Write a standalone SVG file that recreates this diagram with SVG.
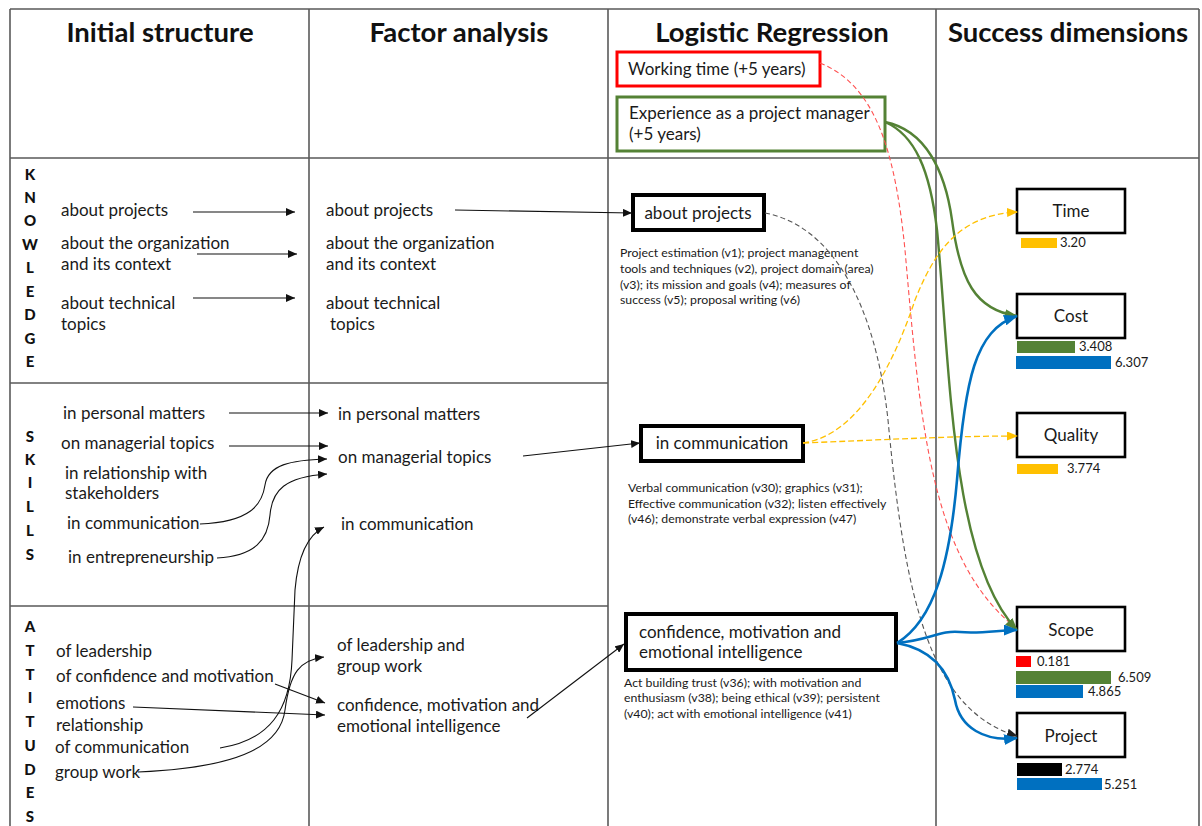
<svg xmlns="http://www.w3.org/2000/svg" width="1202" height="826" viewBox="0 0 1202 826">
  <style>
    .grid { stroke: #5a5a5a; stroke-width: 1.6; fill: none; }
    .hdr { font-family: Lato, "Liberation Sans", sans-serif; font-weight: bold; font-size: 27.5px; fill: #111; text-anchor: middle; }
    .vl { font-family: Lato, "Liberation Sans", sans-serif; font-weight: 900; font-size: 15px; fill: #111; text-anchor: middle; }
    .t { font-family: Lato, "Liberation Sans", sans-serif; font-size: 17px; fill: #1a1a1a; }
    .d { font-family: Lato, "Liberation Sans", sans-serif; font-size: 12.3px; fill: #1a1a1a; }
    .bt { font-family: Lato, "Liberation Sans", sans-serif; font-size: 17px; fill: #1a1a1a; }
    .ct { text-anchor: middle; }
    .num { font-family: Lato, "Liberation Sans", sans-serif; font-size: 13px; fill: #1a1a1a; }
    .box { fill: #fff; stroke: #000; stroke-width: 4; }
    .sbox { fill: #fff; stroke: #000; stroke-width: 2.6; }
    .thin { fill: none; stroke: #111; stroke-width: 1.1; }
    .green { fill: none; stroke: #548235; stroke-width: 2.4; }
    .blue { fill: none; stroke: #0070C0; stroke-width: 2.6; }
    .red { fill: none; stroke: #FF5050; stroke-width: 1.1; stroke-dasharray: 5 3; }
    .yel { fill: none; stroke: #FFC000; stroke-width: 1.3; stroke-dasharray: 6 3; }
    .gray { fill: none; stroke: #555; stroke-width: 1.1; stroke-dasharray: 5 3; }
  </style>
  <defs>
    <marker id="ah" markerUnits="userSpaceOnUse" markerWidth="9" markerHeight="8" refX="9" refY="4" orient="auto">
      <path d="M0,0 L9,4 L0,8 z" fill="#111"/>
    </marker>
    <marker id="ahG" markerUnits="userSpaceOnUse" markerWidth="13" markerHeight="10" refX="12" refY="5" orient="auto">
      <path d="M0,0 L13,5 L0,10 z" fill="#548235"/>
    </marker>
    <marker id="ahB" markerUnits="userSpaceOnUse" markerWidth="14" markerHeight="11" refX="13" refY="5.5" orient="auto">
      <path d="M0,0 L14,5.5 L0,11 z" fill="#0070C0"/>
    </marker>
    <marker id="ahY" markerUnits="userSpaceOnUse" markerWidth="11" markerHeight="9" refX="10" refY="4.5" orient="auto">
      <path d="M0,0 L11,4.5 L0,9 z" fill="#FFC000"/>
    </marker>
    <marker id="ahK" markerUnits="userSpaceOnUse" markerWidth="11" markerHeight="9" refX="10" refY="4.5" orient="auto">
      <path d="M0,0 L11,4.5 L0,9 z" fill="#222"/>
    </marker>
  </defs>

  <rect width="1202" height="826" fill="#fff"/>

  <!-- table frame -->
  <g id="table">
    <path class="grid" d="M10,9 H1199 M10,158 H1199 M10,383 H608 M10,606 H608"/>
    <path class="grid" d="M10,9 V826 M309,9 V826 M608,9 V826 M936,9 V826 M1199,9 V826"/>
  </g>

  <!-- column headings -->
  <g id="headings">
    <text class="hdr" x="160" y="42">Initial structure</text>
    <text class="hdr" x="459" y="42">Factor analysis</text>
    <text class="hdr" x="772" y="42">Logistic Regression</text>
    <text class="hdr" x="1068" y="42">Success dimensions</text>
  </g>

  <!-- row labels, one letter per line -->
  <g id="row-knowledge">
    <text class="vl" x="30" y="180">K</text>
    <text class="vl" x="30" y="203">N</text>
    <text class="vl" x="30" y="226">O</text>
    <text class="vl" x="30" y="250">W</text>
    <text class="vl" x="30" y="273">L</text>
    <text class="vl" x="30" y="297">E</text>
    <text class="vl" x="30" y="320">D</text>
    <text class="vl" x="30" y="344">G</text>
    <text class="vl" x="30" y="367">E</text>
  </g>
  <g id="row-skills">
    <text class="vl" x="30" y="442">S</text>
    <text class="vl" x="30" y="465">K</text>
    <text class="vl" x="30" y="488">I</text>
    <text class="vl" x="30" y="512">L</text>
    <text class="vl" x="30" y="536">L</text>
    <text class="vl" x="30" y="560">S</text>
  </g>
  <g id="row-attitudes">
    <text class="vl" x="30" y="632">A</text>
    <text class="vl" x="30" y="656">T</text>
    <text class="vl" x="30" y="680">T</text>
    <text class="vl" x="30" y="703">I</text>
    <text class="vl" x="30" y="727">T</text>
    <text class="vl" x="30" y="751">U</text>
    <text class="vl" x="30" y="775">D</text>
    <text class="vl" x="30" y="798">E</text>
    <text class="vl" x="30" y="822">S</text>
  </g>

  <!-- initial structure items -->
  <g id="init-knowledge">
    <text class="t" x="61" y="216">about projects</text>
    <text class="t" x="61" y="249">about the organization</text>
    <text class="t" x="61" y="270">and its context</text>
    <text class="t" x="61" y="309">about technical</text>
    <text class="t" x="61" y="330">topics</text>
  </g>
  <g id="init-skills">
    <text class="t" x="63" y="419">in personal matters</text>
    <text class="t" x="61" y="449">on managerial topics</text>
    <text class="t" x="65" y="479">in relationship with</text>
    <text class="t" x="65" y="499">stakeholders</text>
    <text class="t" x="67" y="529">in communication</text>
    <text class="t" x="68" y="563">in entrepreneurship</text>
  </g>
  <g id="init-attitudes">
    <text class="t" x="56" y="657">of leadership</text>
    <text class="t" x="56" y="682">of confidence and motivation</text>
    <text class="t" x="56" y="709">emotions</text>
    <text class="t" x="56" y="731">relationship</text>
    <text class="t" x="55" y="753">of communication</text>
    <text class="t" x="55" y="778">group work</text>
  </g>

  <!-- factor analysis items -->
  <g id="factor-knowledge">
    <text class="t" x="326" y="216">about projects</text>
    <text class="t" x="326" y="249">about the organization</text>
    <text class="t" x="326" y="270">and its context</text>
    <text class="t" x="326" y="309">about technical</text>
    <text class="t" x="330" y="330">topics</text>
  </g>
  <g id="factor-skills">
    <text class="t" x="338" y="420">in personal matters</text>
    <text class="t" x="338" y="463">on managerial topics</text>
    <text class="t" x="341" y="530">in communication</text>
  </g>
  <g id="factor-attitudes">
    <text class="t" x="337" y="651">of leadership and</text>
    <text class="t" x="337" y="672">group work</text>
    <text class="t" x="337" y="711">confidence, motivation and</text>
    <text class="t" x="337" y="732">emotional intelligence</text>
  </g>

  <!-- logistic regression predictors -->
  <g id="lr-working-time">
    <rect x="617" y="52" width="203" height="34" fill="#fff" stroke="#FF0000" stroke-width="3"/>
    <text class="bt" x="628" y="75">Working time (+5 years)</text>
  </g>
  <g id="lr-experience">
    <rect x="617" y="97" width="268" height="54" fill="#fff" stroke="#548235" stroke-width="3"/>
    <text class="bt" x="629" y="119">Experience as a project manager</text>
    <text class="bt" x="629" y="140">(+5 years)</text>
  </g>
  <g id="lr-about-projects">
    <rect class="box" x="633" y="195" width="131" height="35"/>
    <text class="bt ct" x="698" y="219">about projects</text>
    <text class="d" x="620" y="257">Project estimation (v1); project management</text>
    <text class="d" x="620" y="273">tools and techniques (v2), project domain (area)</text>
    <text class="d" x="620" y="289">(v3); its mission and goals (v4); measures of</text>
    <text class="d" x="620" y="304">success (v5); proposal writing (v6)</text>
  </g>
  <g id="lr-communication">
    <rect class="box" x="641" y="426" width="162" height="35"/>
    <text class="bt ct" x="722" y="449">in communication</text>
    <text class="d" x="628" y="492">Verbal communication (v30); graphics (v31);</text>
    <text class="d" x="628" y="508">Effective communication (v32); listen effectively</text>
    <text class="d" x="628" y="523">(v46); demonstrate verbal expression (v47)</text>
  </g>
  <g id="lr-confidence">
    <rect class="box" x="626" y="614" width="270" height="56"/>
    <text class="bt" x="639" y="638">confidence, motivation and</text>
    <text class="bt" x="639" y="658">emotional intelligence</text>
    <text class="d" x="624" y="687">Act building trust (v36); with motivation and</text>
    <text class="d" x="624" y="702">enthusiasm (v38); being ethical (v39); persistent</text>
    <text class="d" x="624" y="718">(v40); act with emotional intelligence (v41)</text>
  </g>

  <!-- success dimensions with coefficient bars -->
  <g id="sd-time">
    <rect class="sbox" x="1017" y="189" width="108" height="44"/>
    <text class="bt ct" x="1071" y="217">Time</text>
    <rect x="1021" y="238" width="36" height="10" fill="#FFC000"/>
    <text class="num" x="1060" y="247">3.20</text>
  </g>
  <g id="sd-cost">
    <rect class="sbox" x="1017" y="294" width="108" height="44"/>
    <text class="bt ct" x="1071" y="322">Cost</text>
    <rect x="1017" y="341" width="58" height="12" fill="#548235"/>
    <text class="num" x="1079" y="351">3.408</text>
    <rect x="1016" y="356" width="95" height="13" fill="#0070C0"/>
    <text class="num" x="1115" y="367">6.307</text>
  </g>
  <g id="sd-quality">
    <rect class="sbox" x="1017" y="413" width="108" height="44"/>
    <text class="bt ct" x="1071" y="441">Quality</text>
    <rect x="1017" y="464" width="41" height="10" fill="#FFC000"/>
    <text class="num" x="1067" y="473">3.774</text>
  </g>
  <g id="sd-scope">
    <rect class="sbox" x="1017" y="607" width="108" height="44"/>
    <text class="bt ct" x="1071" y="636">Scope</text>
    <rect x="1016" y="656" width="15" height="11" fill="#FF0000"/>
    <text class="num" x="1037" y="666">0.181</text>
    <rect x="1016" y="671" width="95" height="13" fill="#548235"/>
    <text class="num" x="1118" y="682">6.509</text>
    <rect x="1016" y="685" width="67" height="13" fill="#0070C0"/>
    <text class="num" x="1088" y="696">4.865</text>
  </g>
  <g id="sd-project">
    <rect class="sbox" x="1017" y="713" width="108" height="44"/>
    <text class="bt ct" x="1071" y="742">Project</text>
    <rect x="1017" y="763" width="45" height="13" fill="#000"/>
    <text class="num" x="1065" y="774">2.774</text>
    <rect x="1017" y="778" width="85" height="12" fill="#0070C0"/>
    <text class="num" x="1104" y="789">5.251</text>
  </g>

  <!-- connectors -->
  <g id="connectors">
    <!-- initial structure to factor analysis -->
    <path class="thin" marker-end="url(#ah)" d="M193,212 H295"/>
    <path class="thin" marker-end="url(#ah)" d="M197,254 H297"/>
    <path class="thin" marker-end="url(#ah)" d="M193,298 H295"/>
    <path class="thin" marker-end="url(#ah)" d="M229,413 H328"/>
    <path class="thin" marker-end="url(#ah)" d="M229,446 H328"/>
    <path class="thin" marker-end="url(#ah)" d="M200,524 C250,522 262,505 265,485 C268,465 290,460 327,459"/>
    <path class="thin" marker-end="url(#ah)" d="M217,558 C255,556 268,540 270,515 C272,490 285,477 327,474"/>
    <path class="thin" marker-end="url(#ah)" d="M220,748 C270,740 290,710 292,660 L295,590 C298,555 308,535 324,527"/>
    <path class="thin" marker-end="url(#ah)" d="M275,684 L325,703"/>
    <path class="thin" marker-end="url(#ah)" d="M133,707 L325,715"/>
    <path class="thin" marker-end="url(#ah)" d="M138,772 C230,768 280,750 285,710 C290,672 300,660 324,657"/>
    <!-- factor analysis to logistic regression -->
    <path class="thin" marker-end="url(#ah)" d="M455,210 L632,213"/>
    <path class="thin" marker-end="url(#ah)" d="M523,456 L640,443"/>
    <path class="thin" marker-end="url(#ah)" d="M527,718 L624,644"/>
    <!-- logistic regression to success dimensions -->
    <path class="red" d="M820,63 C875,85 895,150 905,250 C920,420 930,560 1016,628"/>
    <path class="green" marker-end="url(#ahG)" d="M885,122 C925,130 945,170 952,220 C960,280 975,310 1017,316"/>
    <path class="green" marker-end="url(#ahG)" d="M885,122 C915,135 930,170 937,230 C950,360 950,560 1017,630"/>
    <path class="gray" marker-end="url(#ahK)" d="M765,213 C830,225 875,300 888,420 C905,600 930,710 1017,736"/>
    <path class="yel" marker-end="url(#ahY)" d="M803,443 C860,435 895,360 915,300 C935,250 960,215 1017,212"/>
    <path class="yel" marker-end="url(#ahY)" d="M803,443 C880,440 950,436 1017,436"/>
    <path class="blue" marker-end="url(#ahB)" d="M897,643 C935,620 950,560 957,480 C965,380 975,330 1017,316"/>
    <path class="blue" marker-end="url(#ahB)" d="M897,643 C930,640 940,630 960,632 C980,634 1000,630 1017,630"/>
    <path class="blue" marker-end="url(#ahB)" d="M897,643 C935,650 950,675 955,700 C960,728 985,742 1017,738"/>
  </g>
</svg>
